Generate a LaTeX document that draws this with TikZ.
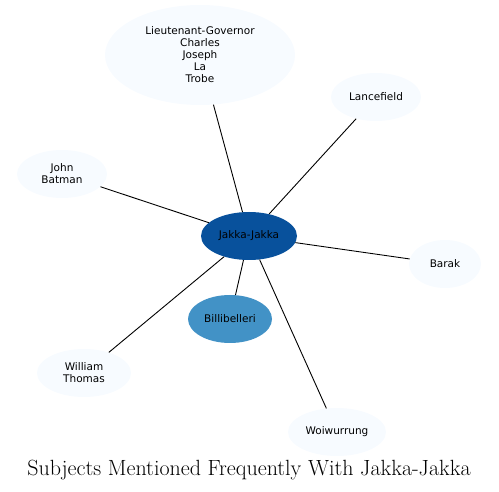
\documentclass[tikz,border=0pt]{standalone}
\usepackage{fontspec}
\newfontfamily\nodefont{DejaVu Sans}
\usetikzlibrary{shapes.geometric}
\definecolor{paleblue}{HTML}{F7FBFF}
\definecolor{darkblue}{HTML}{08519C}
\definecolor{midblue}{HTML}{4292C6}
\tikzset{
	subj/.style={ellipse, fill=paleblue, inner sep=0pt, font=\nodefont\fontsize{10.5}{12}\selectfont, align=center},
	link/.style={black, line width=0.9pt}
}

\begin{document}
\begin{tikzpicture}[x=1pt, y=-1pt]
			\useasboundingbox (0,0) rectangle (499,492);

			% --- centre node ---
			\node[subj, fill=darkblue, minimum width=96pt, minimum height=48pt] (jakka) at (249,236) {Jakka-Jakka};

			% --- surrounding subjects ---
			\node[subj, minimum width=190pt, minimum height=100pt] (latrobe) at (200,55) {Lieutenant-Governor\\Charles\\Joseph\\La\\Trobe};
			\node[subj, minimum width=90pt, minimum height=48pt] (lancefield) at (376,97) {Lancefield};
			\node[subj, minimum width=90pt, minimum height=48pt] (batman) at (62,174) {John\\Batman};
			\node[subj, minimum width=72pt, minimum height=48pt] (barak) at (445,264) {Barak};
			\node[subj, fill=midblue, minimum width=84pt, minimum height=48pt] (billi) at (230,319) {Billibelleri};
			\node[subj, minimum width=94pt, minimum height=48pt] (thomas) at (84,373) {William\\Thomas};
			\node[subj, minimum width=98pt, minimum height=48pt] (woi) at (337,432) {Woiwurrung};

			% --- links ---
			\draw[link] (jakka) -- (latrobe);
			\draw[link] (jakka) -- (lancefield);
			\draw[link] (jakka) -- (batman);
			\draw[link] (jakka) -- (barak);
			\draw[link] (jakka) -- (billi);
			\draw[link] (jakka) -- (thomas);
			\draw[link] (jakka) -- (woi);

			% --- title ---
			\node[font=\fontsize{22}{25}\selectfont] (title) at (249,470) {Subjects Mentioned Frequently With Jakka-Jakka};
		\end{tikzpicture}
\end{document}
